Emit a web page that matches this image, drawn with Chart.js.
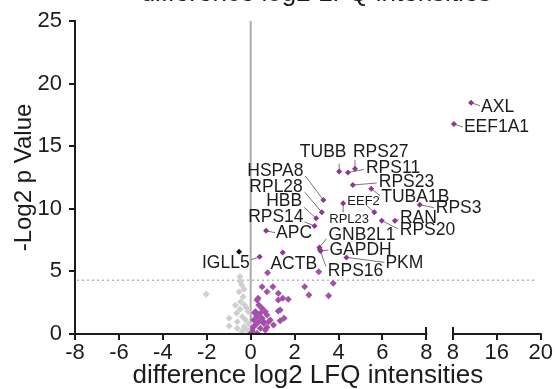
<!DOCTYPE html>
<html>
<head>
<meta charset="utf-8">
<script src="https://cdn.jsdelivr.net/npm/chart.js@4.4.1/dist/chart.umd.min.js"></script>
<style>
  html, body { margin: 0; padding: 0; background: #fff; }
  canvas { display: block; }
</style>
</head>
<body>
<canvas id="volcano" width="555" height="389"></canvas>
<script>
// ---- data ----
const titleText = 'difference log2 LFQ intensities';
const yTitle = '-Log2 p Value';

// x axis is broken: -8..8, then 8 / 16 / 20
const xTicksLeft = [-8, -6, -4, -2, 0, 2, 4, 6, 8];
const xTicksRight = [8, 16, 20];
const yTicks = [0, 5, 10, 15, 20, 25];
const cutoff = 4.3;

// labelled hits
const hitNames = ['AXL', 'EEF1A1', 'TUBB', 'RPS27', 'RPS11', 'RPS23', 'TUBA1B', 'HSPA8', 'RPL28', 'HBB',
  'RPS14', 'APC', 'EEF2', 'RPL23', 'GNB2L1', 'GAPDH', 'RPS16', 'PKM', 'IGLL5', 'ACTB', 'RAN', 'RPS20', 'RPS3'];
const hitX = [11.3, 8.18, 4.03, 4.75, 4.43, 4.65, 5.49, 3.31, 3.24, 2.98,
  2.91, 0.70, 5.63, 4.21, 3.13, 3.18, 3.15, 4.36, 0.41, 1.46, 6.57, 5.97, 7.70];
const hitY = [18.47, 16.77, 12.97, 13.2, 12.9, 11.9, 11.6, 10.7, 9.72, 9.24,
  8.63, 8.25, 9.72, 10.44, 6.9, 6.63, 6.75, 6.12, 6.17, 6.5, 9.05, 9.05, 10.33];

// other enriched proteins (not labelled)
const sigX = [0.77, 0.52, 1.01, 0.74, 1.26, 1.46, 1.71, 0.34, 1.26, 1.52, 2.46, 2.65, 3.55, 3.76, 3.10,
  1.34, 1.34, 1.26, 0.29, 0.37, 0.52, 0.22, 0.44, 0.67, 0.74, 0.29, 0.52, 0.14, 0.37, 0.59,
  0.82, 0.22, 0.44, 0.67, 0.07, 0.29, 0.02, 0.89, 1.04, 0.74, 0.17, 0.59, 0.12, 0.05];
const sigY = [4.9, 3.78, 3.78, 3.38, 3.25, 2.85, 2.77, 2.85, 1.84, 1.25, 3.78, 3.12, 3.06, 4.05, 4.98,
  1.92, 1.06, 2.72, 2.72, 2.32, 2.05, 1.78, 1.65, 1.78, 1.52, 1.38, 1.25, 1.12, 0.98, 0.85,
  0.98, 0.72, 0.46, 0.32, 0.32, 0.05, 0.1, 1.12, 0.72, 0.53, 1.7, 0.98, 0.55, 0.2];

// not significant
const nsX = [-2.03, -0.49, -0.46, -0.41, -0.30, -0.53, -0.34, -0.46, -0.28, -0.49, -0.64, -0.98, -0.98,
  -0.61, -0.38, -0.23, -0.30, -0.16, -0.61, -0.12, -0.20, -0.08, -0.40, -0.70];
const nsY = [3.17, 4.58, 4.18, 3.91, 3.57, 3.38, 2.98, 2.58, 2.32, 1.97, 1.65, 1.25, 0.64,
  0.98, 1.38, 1.12, 0.58, 0.32, 0.46, 1.8, 2.1, 0.8, 0.2, 2.3];

// the one depleted protein above the cutoff
const otherX = [-0.53];
const otherY = [6.57];

// ---- label placement (pixel offsets from the point) ----
// [dx, dy, align, leadX, leadY, small]
const labelLayout = {
  AXL: [10, 4, 'left', 9, 3], EEF1A1: [10, 3, 'left', 9, 3],
  TUBB: [-16, -19, 'center', 0, -8], RPS27: [-2, -17, 'left', 0, -9],
  RPS11: [18, -4, 'left', 16, -3], RPS23: [26, -3, 'left', 24, -2],
  TUBA1B: [10, 8, 'left', 9, 7], HSPA8: [-20, -29, 'right', -18, -24],
  RPL28: [-19, -25, 'right', -17, -20], HBB: [-14, -17, 'right', -12, -11],
  RPS14: [-11, -9, 'right', -10, -4], APC: [10, 2, 'left', 9, 2],
  EEF2: [-27, -11, 'left', -8, -7, true], RPL23: [6, 16, 'center', 0, 9, true],
  GNB2L1: [9, -12, 'left', 7, -9], GAPDH: [9, -1, 'left', 8, -1],
  RPS16: [8, 22, 'left', 6, 17], PKM: [39, 6, 'left', 38, 5],
  IGLL5: [-10, 6, 'right', -9, 3], ACTB: [11, 12, 'center', null, null],
  RAN: [5, -3, 'left', 4, -1], RPS20: [18, 9, 'left', 16, 8], RPS3: [16, 4, 'left', 14, 3]
};

// ---- broken axis mapping ----
const RIGHT_START = 9.21; // where the second segment begins, in axis units
const RIGHT_STEP = 2;     // axis units between ticks in the second segment
const X_MAX = RIGHT_START + RIGHT_STEP * (xTicksRight.length - 1);

function toAxis(v) {
  if (v <= 8) return v;
  for (let i = 1; i < xTicksRight.length; i++) {
    if (v <= xTicksRight[i]) {
      const a = xTicksRight[i - 1], b = xTicksRight[i];
      return RIGHT_START + RIGHT_STEP * (i - 1 + (v - a) / (b - a));
    }
  }
  return X_MAX;
}

const tickValues = xTicksLeft.concat(xTicksRight.map((t, i) => RIGHT_START + RIGHT_STEP * i));
const tickLabels = xTicksLeft.concat(xTicksRight).map(String);

function points(xs, ys) {
  return xs.map((x, i) => ({ x: toAxis(x), y: ys[i] }));
}

const FONT = "'Liberation Sans', Arial, sans-serif";
const INK = '#1c1c1c';

const volcanoDecor = {
  id: 'volcanoDecor',
  beforeDatasetsDraw(chart) {
    const { ctx, chartArea, scales: { x, y } } = chart;
    ctx.save();
    // zero line
    const x0 = x.getPixelForValue(0);
    ctx.strokeStyle = '#ababab';
    ctx.lineWidth = 2;
    ctx.beginPath();
    ctx.moveTo(x0, chartArea.top);
    ctx.lineTo(x0, chartArea.bottom);
    ctx.stroke();
    // significance cutoff
    const yc = y.getPixelForValue(cutoff);
    ctx.strokeStyle = '#b4b4b4';
    ctx.lineWidth = 1.5;
    ctx.setLineDash([2, 3]);
    ctx.beginPath();
    ctx.moveTo(chartArea.left + 2, yc);
    ctx.lineTo(chartArea.right - 6, yc);
    ctx.stroke();
    ctx.setLineDash([]);
    // leader lines
    ctx.strokeStyle = '#777777';
    ctx.lineWidth = 1;
    hitNames.forEach((name, i) => {
      const l = labelLayout[name];
      if (!l || l[3] === null) return;
      const px = x.getPixelForValue(toAxis(hitX[i]));
      const py = y.getPixelForValue(hitY[i]);
      ctx.beginPath();
      ctx.moveTo(px, py);
      ctx.lineTo(px + l[3], py + l[4]);
      ctx.stroke();
    });
    ctx.restore();
  },
  afterDraw(chart) {
    const { ctx, chartArea, scales: { x, y } } = chart;
    ctx.save();
    // broken x axis line
    const yb = chartArea.bottom;
    ctx.strokeStyle = INK;
    ctx.lineWidth = 2;
    ctx.beginPath();
    ctx.moveTo(x.getPixelForValue(-8) - 1, yb);
    ctx.lineTo(x.getPixelForValue(8) + 1, yb);
    ctx.moveTo(x.getPixelForValue(RIGHT_START) - 1, yb);
    ctx.lineTo(x.getPixelForValue(X_MAX) + 1, yb);
    // break caps and tick marks
    tickValues.forEach(v => {
      const p = Math.round(x.getPixelForValue(v));
      const up = (v === 8 || v === RIGHT_START) ? 7 : 0;
      ctx.moveTo(p, yb - up);
      ctx.lineTo(p, yb + 6);
    });
    ctx.stroke();

    // gene labels
    ctx.fillStyle = INK;
    ctx.textBaseline = 'middle';
    hitNames.forEach((name, i) => {
      const l = labelLayout[name];
      if (!l) return;
      const px = x.getPixelForValue(toAxis(hitX[i]));
      const py = y.getPixelForValue(hitY[i]);
      ctx.font = (l[5] ? '13px ' : '17.5px ') + FONT;
      ctx.textAlign = l[2];
      ctx.fillText(name, px + l[0], py + l[1]);
    });

    // top title, cut off by the frame
    ctx.font = '26px ' + FONT;
    ctx.textAlign = 'center';
    ctx.textBaseline = 'alphabetic';
    ctx.fillText(titleText, 316, 0.5);
    ctx.restore();
  }
};

new Chart(document.getElementById('volcano'), {
  type: 'scatter',
  data: {
    datasets: [
      {
        label: 'not significant',
        data: points(nsX, nsY),
        backgroundColor: '#cfcfcf',
        borderWidth: 0,
        pointStyle: 'rectRot',
        pointRadius: 3.5
      },
      {
        label: 'enriched',
        data: points(sigX, sigY),
        backgroundColor: '#a350ab',
        borderWidth: 0,
        pointStyle: 'rectRot',
        pointRadius: 3.5
      },
      {
        label: 'labelled',
        data: points(hitX, hitY),
        backgroundColor: '#8c3795',
        borderWidth: 0,
        pointStyle: 'rectRot',
        pointRadius: 3
      },
      {
        label: 'other',
        data: points(otherX, otherY),
        backgroundColor: '#111111',
        borderWidth: 0,
        pointStyle: 'rectRot',
        pointRadius: 3
      }
    ]
  },
  options: {
    responsive: false,
    animation: false,
    layout: { padding: { top: 21, right: 8, left: 0, bottom: 0 } },
    plugins: {
      legend: { display: false },
      tooltip: { enabled: false }
    },
    scales: {
      x: {
        type: 'linear',
        min: -8,
        max: X_MAX,
        afterBuildTicks(scale) {
          scale.ticks = tickValues.map(v => ({ value: v }));
        },
        afterFit(scale) { scale.height = 55; },
        border: { display: false },
        grid: { display: false, drawTicks: true, tickLength: 6 },
        ticks: {
          autoSkip: false,
          maxRotation: 0,
          padding: 2,
          color: INK,
          font: { family: FONT, size: 22, lineHeight: 1 },
          callback(value) {
            const i = tickValues.indexOf(value);
            return i >= 0 ? tickLabels[i] : '';
          }
        },
        title: {
          display: true,
          text: titleText,
          color: INK,
          padding: { top: 0, bottom: 0 },
          font: { family: FONT, size: 26, lineHeight: 1 }
        }
      },
      y: {
        type: 'linear',
        min: 0,
        max: 25,
        afterBuildTicks(scale) {
          scale.ticks = yTicks.map(v => ({ value: v }));
        },
        afterFit(scale) { scale.width = 75; },
        border: { display: true, color: INK, width: 2 },
        grid: { drawOnChartArea: false, drawTicks: true, tickLength: 6, lineWidth: 2, color: INK },
        ticks: {
          padding: 7,
          color: INK,
          font: { family: FONT, size: 22 }
        },
        title: {
          display: true,
          text: yTitle,
          color: INK,
          padding: { top: 10, bottom: 0 },
          font: { family: FONT, size: 24 }
        }
      }
    }
  },
  plugins: [volcanoDecor]
});
</script>
</body>
</html>
